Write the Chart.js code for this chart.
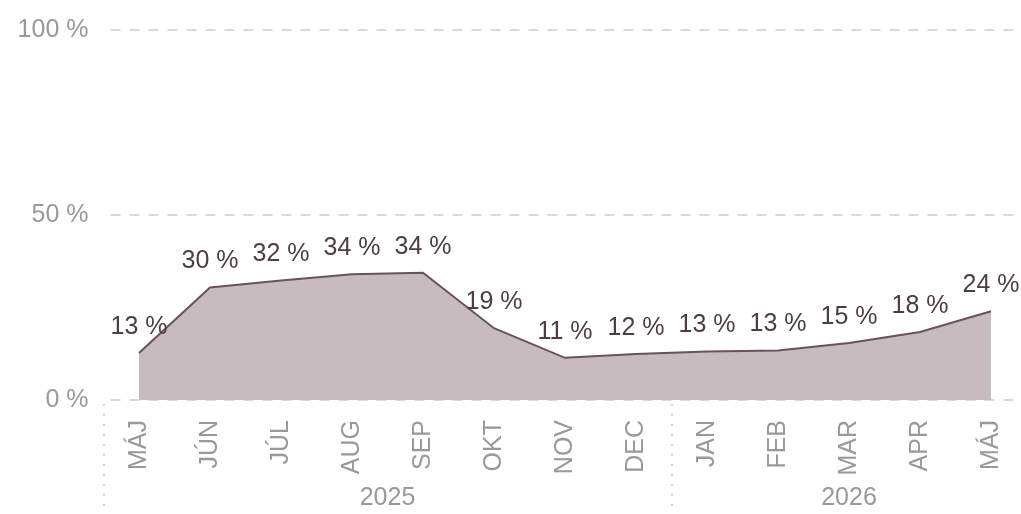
<!DOCTYPE html>
<html>
<head>
<meta charset="utf-8">
<script src="https://cdn.jsdelivr.net/npm/chart.js@4.4.1/dist/chart.umd.min.js"></script>
<style>
  html, body { margin: 0; padding: 0; background: #fff; overflow: hidden; }
  #wrap { width: 1021px; height: 514px; overflow: hidden; }
</style>
</head>
<body>
<div id="wrap"><canvas id="graf" width="1033" height="514"></canvas></div>
<script>
// mesiace a hodnoty
const mesiace = ["MÁJ", "JÚN", "JÚL", "AUG", "SEP", "OKT", "NOV", "DEC", "JAN", "FEB", "MAR", "APR", "MÁJ"];
const hodnoty = [12.7, 30.4, 32.3, 34.0, 34.4, 19.4, 11.4, 12.4, 13.1, 13.4, 15.4, 18.4, 24.0];
const roky = ["2025", "2026"];
const zaciatkyRokov = [0, 8]; // index prveho mesiaca v roku
const yTicky = [0, 50, 100];

const pismo = "'Liberation Sans', Arial, sans-serif";

// popisky hodnot nad bodmi
const popiskyPlugin = {
  id: "popisky",
  afterDatasetsDraw(chart) {
    const ctx = chart.ctx;
    const meta = chart.getDatasetMeta(0);
    ctx.save();
    ctx.font = "25px " + pismo;
    ctx.fillStyle = "#4e3d44";
    ctx.textAlign = "center";
    ctx.textBaseline = "middle";
    meta.data.forEach((bod, i) => {
      ctx.fillText(Math.round(hodnoty[i]) + " %", bod.x, bod.y - 26);
    });
    ctx.restore();
  },
};

// roky a bodkovane oddelovace pod osou
const rokyPlugin = {
  id: "roky",
  afterDraw(chart) {
    const ctx = chart.ctx;
    const x = chart.scales.x;
    const krok = x.getPixelForValue(1) - x.getPixelForValue(0);
    const hranice = zaciatkyRokov.map((i) => x.getPixelForValue(i) - krok / 2);
    hranice.push(x.getPixelForValue(mesiace.length - 1) + krok / 2);

    ctx.save();
    ctx.strokeStyle = "#b5b5b5";
    ctx.lineWidth = 1.5;
    ctx.setLineDash([1.5, 8.5]);
    hranice.forEach((hx) => {
      ctx.beginPath();
      ctx.moveTo(Math.round(hx), chart.chartArea.bottom + 4);
      ctx.lineTo(Math.round(hx), 514);
      ctx.stroke();
    });
    ctx.setLineDash([]);

    ctx.font = "25px " + pismo;
    ctx.fillStyle = "#999999";
    ctx.textAlign = "center";
    ctx.textBaseline = "middle";
    roky.forEach((rok, i) => {
      ctx.fillText(rok, (hranice[i] + hranice[i + 1]) / 2, 498);
    });
    ctx.restore();
  },
};

const graf = new Chart(document.getElementById("graf"), {
  type: "line",
  data: {
    labels: mesiace,
    datasets: [
      {
        data: hodnoty,
        borderColor: "#6b5159",
        borderWidth: 2,
        backgroundColor: "#c6bbbe",
        fill: "origin",
        pointRadius: 0,
        tension: 0,
      },
    ],
  },
  options: {
    responsive: false,
    animation: false,
    layout: { padding: { top: 30, left: 0, right: 0, bottom: 0 } },
    plugins: {
      legend: { display: false },
      tooltip: { enabled: false },
    },
    scales: {
      x: {
        offset: true,
        border: { display: false },
        grid: { display: false },
        ticks: {
          maxRotation: 90,
          minRotation: 90,
          padding: 12,
          color: "#999999",
          font: { family: pismo, size: 25 },
        },
        afterFit: (s) => {
          s.height = 114;
        },
      },
      y: {
        min: 0,
        max: 100,
        afterBuildTicks: (s) => {
          s.ticks = yTicky.map((v) => ({ value: v }));
        },
        border: { display: false, dash: [10, 9], dashOffset: 12.5 },
        grid: {
          color: "#d9d9d9",
          lineWidth: 2,
          drawTicks: false,
        },
        ticks: {
          padding: 15,
          color: "#999999",
          font: { family: pismo, size: 25 },
          callback: (v) => v + " %",
        },
        afterFit: (s) => {
          s.width = 103.5;
        },
      },
    },
  },
  plugins: [popiskyPlugin, rokyPlugin],
});
</script>
</body>
</html>
